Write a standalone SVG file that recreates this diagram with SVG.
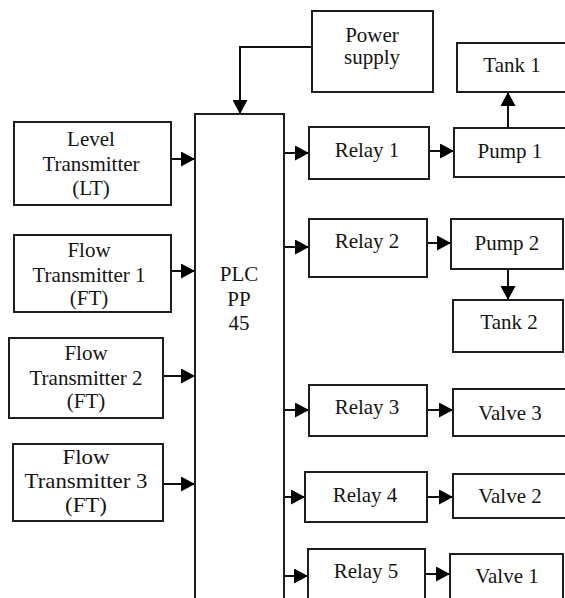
<svg xmlns="http://www.w3.org/2000/svg" width="565" height="598" viewBox="0 0 565 598">
<defs>
<style>
.box{fill:#fff;stroke:#1e1e1e;stroke-width:2}
.t{font-family:'Liberation Serif',Tinos,'DejaVu Serif',serif;font-size:21px;fill:#141414;text-anchor:middle}
.ln{fill:none;stroke:#111;stroke-width:2}
</style>
<marker id="ah" markerUnits="userSpaceOnUse" markerWidth="15" markerHeight="15" refX="14" refY="7.5" orient="auto">
<path d="M0,0 L14,7.5 L0,15 z" fill="#000"/>
</marker>
</defs>
<rect width="565" height="598" fill="#fff"/>

<g id="connectors">
<path class="ln" d="M312,47 H240 V114" marker-end="url(#ah)"/>
<path class="ln" d="M169,159 H195" marker-end="url(#ah)"/>
<path class="ln" d="M171,271 H195" marker-end="url(#ah)"/>
<path class="ln" d="M163,376 H195" marker-end="url(#ah)"/>
<path class="ln" d="M163,484 H195" marker-end="url(#ah)"/>
<path class="ln" d="M284,153 H309" marker-end="url(#ah)"/>
<path class="ln" d="M284,247 H309" marker-end="url(#ah)"/>
<path class="ln" d="M284,410 H309" marker-end="url(#ah)"/>
<path class="ln" d="M284,497 H305" marker-end="url(#ah)"/>
<path class="ln" d="M284,576 H308" marker-end="url(#ah)"/>
<path class="ln" d="M429,151 H454" marker-end="url(#ah)"/>
<path class="ln" d="M427,243 H451" marker-end="url(#ah)"/>
<path class="ln" d="M427,410 H453" marker-end="url(#ah)"/>
<path class="ln" d="M427,497 H453" marker-end="url(#ah)"/>
<path class="ln" d="M425,574 H450" marker-end="url(#ah)"/>
<path class="ln" d="M508,128 V92" marker-end="url(#ah)"/>
<path class="ln" d="M508,269 V300" marker-end="url(#ah)"/>
</g>

<g id="power-supply">
<rect class="box" x="312" y="11" width="121" height="81"/>
<text class="t" x="372" y="42">Power</text>
<text class="t" x="372" y="64">supply</text>
</g>

<g id="plc">
<rect class="box" x="195" y="114" width="89" height="500"/>
<text class="t" x="239" y="281">PLC</text>
<text class="t" x="239" y="306">PP</text>
<text class="t" x="239" y="330">45</text>
</g>

<g id="level-transmitter">
<rect class="box" x="14" y="122" width="157" height="83"/>
<text class="t" x="91" y="146">Level</text>
<text class="t" x="91" y="171">Transmitter</text>
<text class="t" x="91" y="195">(LT)</text>
</g>

<g id="flow-transmitter-1">
<rect class="box" x="14" y="235" width="157" height="77"/>
<text class="t" x="89" y="257">Flow</text>
<text class="t" x="89" y="282">Transmitter 1</text>
<text class="t" x="89" y="305">(FT)</text>
</g>

<g id="flow-transmitter-2">
<rect class="box" x="9" y="338" width="154" height="80"/>
<text class="t" x="86" y="360">Flow</text>
<text class="t" x="86" y="385">Transmitter 2</text>
<text class="t" x="86" y="408">(FT)</text>
</g>

<g id="flow-transmitter-3">
<rect class="box" x="13" y="444" width="150" height="77"/>
<g transform="translate(86,0) scale(1.09,1)">
<text class="t" x="0" y="464">Flow</text>
<text class="t" x="0" y="488">Transmitter 3</text>
<text class="t" x="0" y="512">(FT)</text>
</g>
</g>

<g id="relay-1">
<rect class="box" x="309" y="127" width="120" height="52"/>
<text class="t" x="367" y="157">Relay 1</text>
</g>
<g id="relay-2">
<rect class="box" x="309" y="219" width="118" height="58"/>
<text class="t" x="367" y="248">Relay 2</text>
</g>
<g id="relay-3">
<rect class="box" x="309" y="385" width="118" height="51"/>
<text class="t" x="367" y="414">Relay 3</text>
</g>
<g id="relay-4">
<rect class="box" x="305" y="472" width="122" height="50"/>
<text class="t" x="365" y="502">Relay 4</text>
</g>
<g id="relay-5">
<rect class="box" x="308" y="549" width="117" height="70"/>
<text class="t" x="366" y="578">Relay 5</text>
</g>

<g id="tank-1">
<rect class="box" x="457" y="43" width="112" height="49"/>
<text class="t" x="512" y="72">Tank 1</text>
</g>
<g id="pump-1">
<rect class="box" x="454" y="128" width="115" height="49"/>
<text class="t" x="510" y="158">Pump 1</text>
</g>
<g id="pump-2">
<rect class="box" x="451" y="219" width="112" height="50"/>
<text class="t" x="507" y="250">Pump 2</text>
</g>
<g id="tank-2">
<rect class="box" x="453" y="300" width="110" height="52"/>
<text class="t" x="509" y="329">Tank 2</text>
</g>
<g id="valve-3">
<rect class="box" x="453" y="389" width="116" height="47"/>
<text class="t" x="510" y="420">Valve 3</text>
</g>
<g id="valve-2">
<rect class="box" x="453" y="474" width="116" height="44"/>
<text class="t" x="510" y="503">Valve 2</text>
</g>
<g id="valve-1">
<rect class="box" x="450" y="554" width="113" height="60"/>
<text class="t" x="507" y="583">Valve 1</text>
</g>
</svg>
